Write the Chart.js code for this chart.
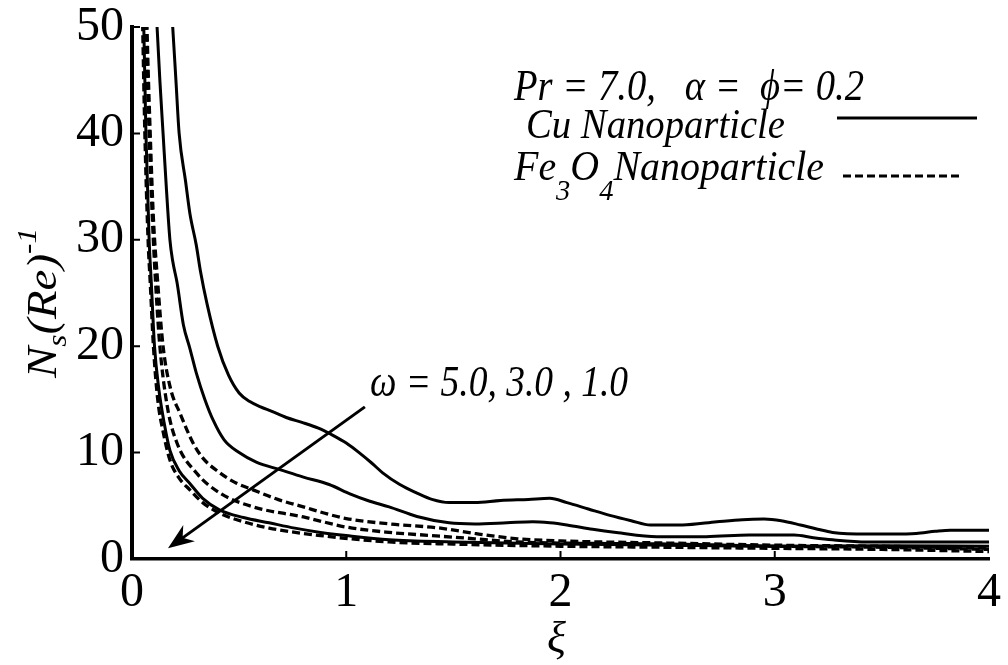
<!DOCTYPE html>
<html>
<head>
<meta charset="utf-8">
<script src="https://cdn.jsdelivr.net/npm/chart.js@4.4.0/dist/chart.umd.min.js"></script>
<style>
  html, body { margin: 0; padding: 0; background: #fff; }
</style>
</head>
<body>
<canvas id="myChart" width="1008" height="665"></canvas>
<script>
// xi / Ns(Re)^-1, one pair of arrays per curve
var cuW5x = [0.18, 0.19, 0.205, 0.22, 0.25, 0.27, 0.30, 0.32, 0.35, 0.40, 0.45, 0.50, 0.55, 0.60, 0.65, 0.72, 0.80, 0.87, 0.94, 1.00, 1.06, 1.12, 1.17, 1.25, 1.33, 1.40, 1.48, 1.60, 1.72, 1.85, 1.95, 2.03, 2.13, 2.23, 2.33, 2.42, 2.57, 2.73, 2.85, 2.95, 3.03, 3.12, 3.20, 3.27, 3.43, 3.55, 3.66, 3.75, 3.82, 4.00];
var cuW5y = [53, 50, 45, 40, 35.5, 32.5, 29.5, 27, 24, 20, 17.3, 15.6, 14.8, 14.3, 13.9, 13.3, 12.8, 12.3, 11.6, 10.9, 10.0, 9.0, 8.1, 7.0, 6.2, 5.6, 5.3, 5.3, 5.5, 5.6, 5.7, 5.3, 4.7, 4.1, 3.6, 3.2, 3.2, 3.5, 3.7, 3.75, 3.6, 3.2, 2.8, 2.5, 2.35, 2.35, 2.4, 2.6, 2.7, 2.7];

var cuW3x = [0.11, 0.117, 0.13, 0.145, 0.16, 0.177, 0.19, 0.21, 0.24, 0.27, 0.30, 0.34, 0.38, 0.43, 0.50, 0.58, 0.69, 0.80, 0.92, 1.02, 1.10, 1.20, 1.33, 1.48, 1.60, 1.75, 1.87, 1.95, 2.03, 2.15, 2.26, 2.45, 2.68, 2.88, 3.09, 3.18, 3.27, 3.43, 3.74, 4.00];
var cuW3y = [53, 50, 45, 40, 35, 30, 28, 26, 22, 19.8, 17.5, 15, 13, 11.2, 10, 9.1, 8.4, 7.7, 7.0, 6.1, 5.5, 4.9, 4.0, 3.4, 3.3, 3.4, 3.5, 3.4, 3.2, 2.8, 2.5, 2.1, 2.1, 2.25, 2.25, 2.0, 1.8, 1.6, 1.6, 1.6];

var cuW1x = [0.05, 0.055, 0.065, 0.08, 0.09, 0.105, 0.125, 0.15, 0.177, 0.22, 0.27, 0.33, 0.41, 0.52, 0.64, 0.76, 0.88, 1.0, 1.2, 1.5, 2.0, 2.5, 3.0, 3.5, 4.0];
var cuW1y = [56, 50, 40, 30, 26, 20, 16, 12.8, 10.2, 8.3, 7.1, 5.7, 4.6, 3.9, 3.4, 2.9, 2.5, 2.2, 1.8, 1.6, 1.4, 1.3, 1.2, 1.25, 1.2];

var feW5x = [0.065, 0.07, 0.085, 0.10, 0.12, 0.145, 0.18, 0.224, 0.285, 0.33, 0.41, 0.48, 0.565, 0.68, 0.8, 0.9, 1.0, 1.2, 1.44, 1.6, 1.8, 2.0, 2.5, 3.0, 3.5, 4.0];
var feW5y = [55, 50, 40, 32, 26, 20, 16, 13.7, 10.9, 9.5, 8.1, 7.2, 6.5, 5.6, 4.9, 4.3, 3.8, 3.3, 2.9, 2.4, 1.9, 1.7, 1.5, 1.3, 1.2, 1.0];

var feW3x = [0.06, 0.065, 0.08, 0.095, 0.11, 0.13, 0.165, 0.21, 0.30, 0.41, 0.565, 0.8, 1.0, 1.2, 1.4, 1.6, 1.8, 2.0, 2.5, 3.0, 3.5, 4.0];
var feW3y = [55, 50, 40, 32, 26, 20, 14.3, 10.9, 8.1, 6.2, 4.9, 3.95, 3.0, 2.5, 2.2, 1.9, 1.6, 1.5, 1.4, 1.2, 1.1, 0.9];

var feW1x = [0.045, 0.05, 0.06, 0.075, 0.085, 0.10, 0.12, 0.145, 0.177, 0.22, 0.27, 0.33, 0.41, 0.52, 0.64, 0.88, 1.2, 1.5, 2.0, 2.5, 3.0, 3.5, 4.0];
var feW1y = [56, 50, 40, 30, 26, 20, 15, 12, 9.3, 7.6, 6.5, 5.3, 4.3, 3.5, 2.9, 2.2, 1.6, 1.4, 1.2, 1.1, 1.0, 0.9, 0.7];

var xTicks = [0, 1, 2, 3, 4];
var yTicks = [0, 10, 20, 30, 40, 50];

// arrow across the curves, in data units
var arrowFrom = [1.087, 14.3];
var arrowTo = [0.168, 1.0];

var serif = '"Liberation Serif", "Times New Roman", Times, serif';

function pts(xs, ys) {
    return xs.map(function (x, i) { return { x: x, y: ys[i] }; });
}

function curve(label, xs, ys, dashed) {
    return {
        label: label,
        data: pts(xs, ys),
        showLine: true,
        borderColor: '#000',
        borderWidth: dashed ? 3.3 : 3,
        borderDash: dashed ? [8, 4] : [],
        pointRadius: 0,
        cubicInterpolationMode: 'monotone',
        fill: false
    };
}

// text runs with sub/superscripts, squeezed to a given width
function rich(ctx, parts, x, y, width) {
    ctx.save();
    var total = 0;
    parts.forEach(function (p) {
        ctx.font = 'italic ' + p.size + 'px ' + serif;
        total += ctx.measureText(p.t).width;
    });
    ctx.translate(x, y);
    ctx.scale(width ? width / total : 1, 1);
    var cx = 0;
    parts.forEach(function (p) {
        ctx.font = 'italic ' + p.size + 'px ' + serif;
        ctx.fillText(p.t, cx, p.dy || 0);
        cx += ctx.measureText(p.t).width;
    });
    ctx.restore();
}

var extras = {
    id: 'extras',
    afterDraw: function (chart) {
        var ctx = chart.ctx;
        var xs = chart.scales.x, ys = chart.scales.y;
        ctx.save();
        ctx.fillStyle = '#000';
        ctx.strokeStyle = '#000';
        ctx.textBaseline = 'alphabetic';
        ctx.textAlign = 'left';

        // inward ticks
        ctx.lineWidth = 2;
        ctx.beginPath();
        yTicks.slice(1).forEach(function (v) {
            var py = ys.getPixelForValue(v);
            ctx.moveTo(xs.left, py);
            ctx.lineTo(xs.left + 8, py);
        });
        xTicks.slice(1, -1).forEach(function (v) {
            var px = xs.getPixelForValue(v);
            ctx.moveTo(px, ys.bottom);
            ctx.lineTo(px, ys.bottom - 8);
        });
        ctx.stroke();

        // arrow
        var ax = xs.getPixelForValue(arrowFrom[0]), ay = ys.getPixelForValue(arrowFrom[1]);
        var bx = xs.getPixelForValue(arrowTo[0]), by = ys.getPixelForValue(arrowTo[1]);
        var ang = Math.atan2(by - ay, bx - ax);
        ctx.lineWidth = 3;
        ctx.beginPath();
        ctx.moveTo(ax, ay);
        ctx.lineTo(bx - 15 * Math.cos(ang), by - 15 * Math.sin(ang));
        ctx.stroke();
        ctx.beginPath();
        ctx.moveTo(bx, by);
        ctx.lineTo(bx - 26 * Math.cos(ang) + 10 * Math.sin(ang), by - 26 * Math.sin(ang) - 10 * Math.cos(ang));
        ctx.lineTo(bx - 18 * Math.cos(ang), by - 18 * Math.sin(ang));
        ctx.lineTo(bx - 26 * Math.cos(ang) - 10 * Math.sin(ang), by - 26 * Math.sin(ang) + 10 * Math.cos(ang));
        ctx.closePath();
        ctx.fill();

        // annotations
        rich(ctx, [{ t: 'Pr = 7.0,   \u03b1 =  \u03d5= 0.2', size: 44 }], 514, 100, 350);
        rich(ctx, [{ t: 'Cu Nanoparticle', size: 42 }], 526, 138, 259);
        rich(ctx, [
            { t: 'Fe', size: 42 }, { t: '3', size: 30, dy: 20 },
            { t: 'O', size: 42 }, { t: '4', size: 30, dy: 20 },
            { t: 'Nanoparticle', size: 42 }
        ], 514, 180, 310);
        rich(ctx, [{ t: '\u03c9 = 5.0, 3.0 , 1.0', size: 44 }], 370, 396, 258);

        // legend samples
        ctx.lineWidth = 3;
        ctx.beginPath();
        ctx.moveTo(837, 118);
        ctx.lineTo(977, 118);
        ctx.stroke();
        ctx.setLineDash([8, 4]);
        ctx.beginPath();
        ctx.moveTo(843, 176);
        ctx.lineTo(963, 176);
        ctx.stroke();
        ctx.setLineDash([]);

        // axis titles
        rich(ctx, [{ t: '\u03be', size: 44 }], 547, 652);
        ctx.save();
        ctx.translate(56, 378);
        ctx.rotate(-Math.PI / 2);
        rich(ctx, [
            { t: 'N', size: 42 }, { t: 's', size: 28, dy: 10 },
            { t: '(Re)', size: 42 }, { t: '-1', size: 28, dy: -20 }
        ], 0, 0, 150);
        ctx.restore();

        ctx.restore();
    }
};

function build() {
    var ctx = document.getElementById('myChart').getContext('2d');
    return new Chart(ctx, {
        type: 'scatter',
        data: {
            datasets: [
                curve('Cu, \u03c9 = 5.0', cuW5x, cuW5y, false),
                curve('Cu, \u03c9 = 3.0', cuW3x, cuW3y, false),
                curve('Cu, \u03c9 = 1.0', cuW1x, cuW1y, false),
                curve('Fe3O4, \u03c9 = 5.0', feW5x, feW5y, true),
                curve('Fe3O4, \u03c9 = 3.0', feW3x, feW3y, true),
                curve('Fe3O4, \u03c9 = 1.0', feW1x, feW1y, true)
            ]
        },
        options: {
            responsive: false,
            animation: false,
            layout: { padding: { top: 27, right: 19, left: 0, bottom: 0 } },
            plugins: {
                legend: { display: false },
                tooltip: { enabled: false }
            },
            scales: {
                x: {
                    type: 'linear',
                    min: 0,
                    max: 4,
                    afterBuildTicks: function (s) { s.ticks = xTicks.map(function (v) { return { value: v }; }); },
                    ticks: { color: '#000', font: { family: serif, size: 48 }, padding: 6, maxRotation: 0 },
                    grid: { display: false, drawTicks: false },
                    border: { display: true, color: '#000', width: 3.5 },
                    afterFit: function (s) { s.height = 106; s.paddingLeft = 0; s.paddingRight = 0; }
                },
                y: {
                    type: 'linear',
                    min: 0,
                    max: 50,
                    afterBuildTicks: function (s) { s.ticks = yTicks.map(function (v) { return { value: v }; }); },
                    ticks: { color: '#000', font: { family: serif, size: 48 }, padding: 8 },
                    grid: { display: false, drawTicks: false },
                    border: { display: true, color: '#000', width: 4 },
                    afterFit: function (s) { s.width = 132; s.paddingTop = 0; s.paddingBottom = 0; }
                }
            }
        },
        plugins: [extras]
    });
}

// make sure the serif face is ready before the canvas is painted
Promise.all([
    document.fonts.load('48px "Liberation Serif"'),
    document.fonts.load('italic 44px "Liberation Serif"')
]).then(build, build);
</script>
</body>
</html>
